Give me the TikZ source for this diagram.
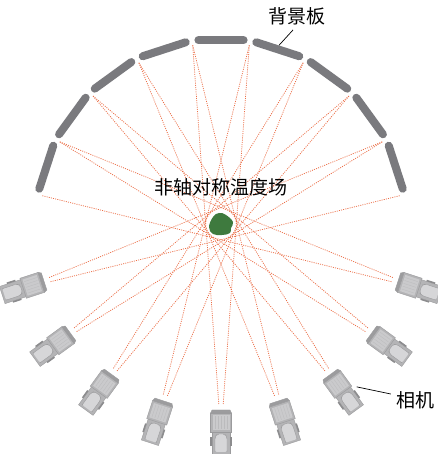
\documentclass[tikz,border=0pt]{standalone}
\usepackage{fontspec}
\newfontfamily\cjk{Noto Sans CJK SC}
\usetikzlibrary{calc}
\definecolor{panelgray}{RGB}{122,122,126}
\definecolor{rayred}{RGB}{236,110,70}
\definecolor{fieldgreen}{RGB}{62,122,62}
\definecolor{camedge}{RGB}{155,155,157}
\definecolor{cambody}{RGB}{180,180,182}
\definecolor{camface}{RGB}{202,202,204}
\definecolor{camlight}{RGB}{214,214,216}
\definecolor{camdark}{RGB}{140,140,142}

\tikzset{
  panel/.style={panelgray, line width=8pt, line cap=round},
  ray/.style={rayred, line width=0.75pt, dash pattern=on 1pt off 1.2pt},
  leader/.style={black, line width=0.7pt},
  label/.style={font=\cjk\fontsize{19}{19}\selectfont, inner sep=0pt},
  % camera seen from above; front edge at the origin, looking along +y
  camera/.pic={
    % rear housing
    \filldraw[fill=cambody, draw=camedge, line width=0.4pt]
      (-9,-21) rectangle (9,-44);
    \fill[camlight, rounded corners=2pt]
      (-6,-42) -- (-6,-27) -- (-4,-24) -- (4,-24) -- (6,-27) -- (6,-42) -- cycle;
    \draw[camedge, line width=0.4pt, rounded corners=2pt]
      (-6,-42) -- (-6,-27) -- (-4,-24) -- (4,-24) -- (6,-27) -- (6,-42);
    % side tabs
    \fill[camdark] (-10.6,-36) rectangle (-9,-27);
    \fill[camdark] (9,-36) rectangle (10.6,-27);
    % front body
    \filldraw[fill=cambody, draw=camedge, line width=0.4pt]
      (-10.5,-22) rectangle (10.5,-3);
    \fill[camface] (-8.5,-20) rectangle (8.5,-5);
    \foreach \u in {-6,-3,0,3,6}
      \draw[cambody!70!camface, line width=0.3pt] (\u,-19) -- (\u,-6);
    % front rim
    \filldraw[fill=camdark!60!cambody, draw=camedge, line width=0.4pt]
      (-10.5,-3) -- (-9,0) -- (9,0) -- (10.5,-3) -- cycle;
  }
}

\begin{document}
\begin{tikzpicture}[x=1pt, y=1pt]
\useasboundingbox (0,0) rectangle (437,454);
\fill[white] (0,0) rectangle (437,454);

\coordinate (C) at (221,230);

% panel corners and ray targets on the inner side of the screen
\foreach \k in {0,...,9} {
  \coordinate (V\k) at ($(C)+({9+18*\k}:186)$);
  \coordinate (T\k) at ($(C)+({9+18*\k}:181)$);
}

% camera positions and ray origins
\foreach \j in {0,...,8} {
  \pgfmathsetmacro{\th}{-18-18*\j}
  \coordinate (K\j) at ($(C)+(\th:186)$);
  \coordinate (Sa\j) at ($(C)+({\th+0.7}:180)$);
  \coordinate (Sb\j) at ($(C)+({\th-0.7}:180)$);
}

% viewing rays: each camera sees the screen panel opposite to it
\foreach \j in {0,...,8} {
  \pgfmathtruncatemacro{\ka}{8-\j}
  \pgfmathtruncatemacro{\kb}{9-\j}
  \draw[ray] (Sa\j) -- (T\ka);
  \draw[ray] (Sb\j) -- (T\kb);
}

% background screen made of nine flat panels
\foreach \k in {0,...,8} {
  \pgfmathtruncatemacro{\n}{\k+1}
  \draw[panel] ($(V\k)!6.5pt!(V\n)$) -- ($(V\n)!6.5pt!(V\k)$);
}

% cameras
\foreach \j in {0,...,8} {
  \pgfmathsetmacro{\rot}{-18-18*\j+90}
  \pic (cam\j) [rotate=\rot] at (K\j) {camera};
}

% non-axisymmetric temperature field
\filldraw[fill=fieldgreen, draw=white, line width=2.5pt]
  plot[smooth cycle, tension=0.7] coordinates {
    ($(C)+(-8,7)$) ($(C)+(-2,11)$) ($(C)+(5,9)$) ($(C)+(12,2)$)
    ($(C)+(10,-4)$) ($(C)+(9,-9)$) ($(C)+(1,-11)$) ($(C)+(-8,-10)$)
    ($(C)+(-12,-3)$)
  };
\fill[fieldgreen]
  plot[smooth cycle, tension=0.7] coordinates {
    ($(C)+(-8,7)$) ($(C)+(-2,11)$) ($(C)+(5,9)$) ($(C)+(12,2)$)
    ($(C)+(10,-4)$) ($(C)+(9,-9)$) ($(C)+(1,-11)$) ($(C)+(-8,-10)$)
    ($(C)+(-12,-3)$)
  };

% labels
\node[label] (lblfield) at (220.5,267) {非轴对称温度场};
\node[label] (lblpanel) at (297,438) {背景板};
\node[label] (lblcam)   at (415,54)  {相机};

\coordinate (panelTip) at ($(C)+(72:188)$);
\coordinate (camTip)   at ($(C)+(-50.2:212)$);
\draw[leader] ([xshift=-4pt, yshift=-5pt]lblpanel.south) -- (panelTip);
\draw[leader] ([xshift=-5pt, yshift=6pt]lblcam.west) -- (camTip);
\end{tikzpicture}
\end{document}
